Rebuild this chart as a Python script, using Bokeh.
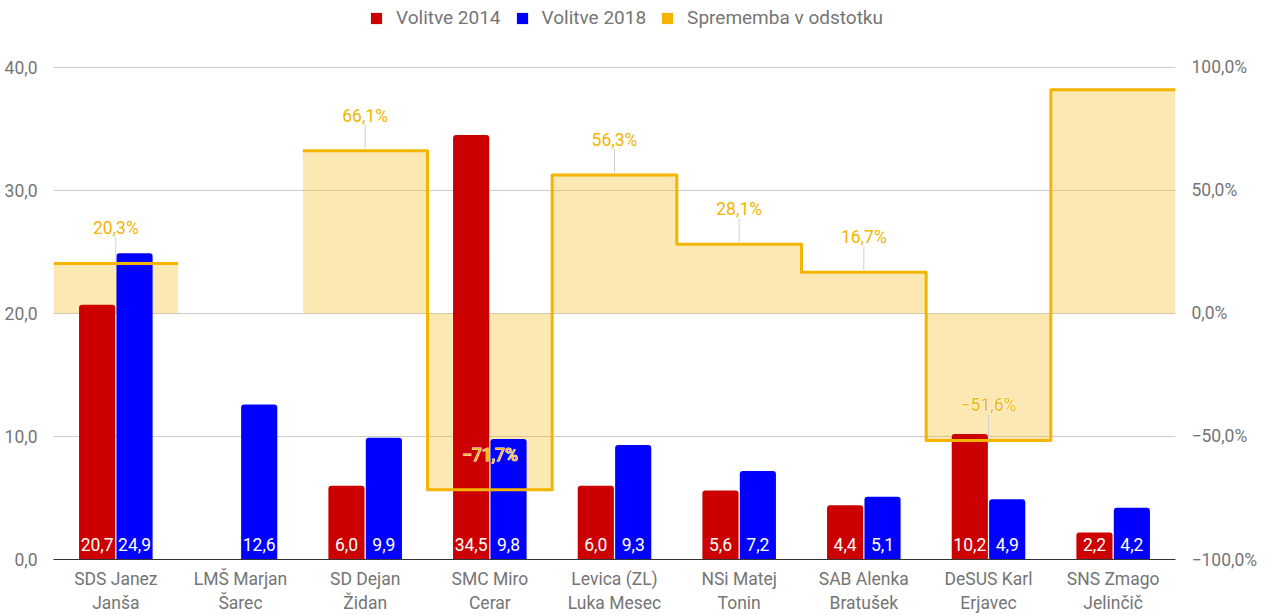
from bokeh.plotting import figure
from bokeh.models import Range1d, LinearAxis, Legend, LegendItem, FixedTicker, ColumnDataSource
from bokeh.embed import file_html
from bokeh.resources import INLINE
from bokeh.core.properties import value

categories = ["SDS Janez\nJanša", "LMŠ Marjan\nŠarec", "SD Dejan\nŽidan", "SMC Miro\nCerar",
              "Levica (ZL)\nLuka Mesec", "NSi Matej\nTonin", "SAB Alenka\nBratušek",
              "DeSUS Karl\nErjavec", "SNS Zmago\nJelinčič"]
v2014 = [20.7, None, 6.0, 34.5, 6.0, 5.6, 4.4, 10.2, 2.2]
v2018 = [24.9, 12.6, 9.9, 9.8, 9.3, 7.2, 5.1, 4.9, 4.2]
change = [20.3, None, 66.1, -71.7, 56.3, 28.1, 16.7, -51.6, 90.9]
left_ticks = [0, 10, 20, 30, 40]
left_labels = ["0,0", "10,0", "20,0", "30,0", "40,0"]
right_ticks = [-100, -50, 0, 50, 100]
right_labels = ["−100,0%", "−50,0%", "0,0%", "50,0%", "100,0%"]
series_names = ["Volitve 2014", "Volitve 2018", "Sprememba v odstotku"]

RED = "#cc0000"
BLUE = "#0000ff"
YEL = "#f4b400"
GRAY = "#757575"
FONT = "Roboto"
FS = "17.5px"

# layout: plot data area 493px tall, plus 67px headroom at top holding the legend
DATA_H = 493
HEAD = 67
y_end = left_ticks[-1] * (DATA_H + HEAD) / DATA_H
pct_end = right_ticks[0] + (right_ticks[-1] - right_ticks[0]) * (DATA_H + HEAD) / DATA_H

def fmt(v):
    s = f"{abs(v):.1f}".replace(".", ",")
    return ("−" + s) if v < 0 else s

p = figure(width=1260, height=615, output_backend="svg", toolbar_location=None,
           x_range=Range1d(0, len(categories)), y_range=Range1d(0, y_end),
           min_border_left=53, min_border_right=80, min_border_top=0, min_border_bottom=55)
p.extra_y_ranges = {"pct": Range1d(right_ticks[0], pct_end)}
p.outline_line_alpha = 0
p.background_fill_color = "white"

# grid
p.xgrid.visible = False
p.ygrid.ticker = FixedTicker(ticks=left_ticks)
p.ygrid.grid_line_color = "#cccccc"

# axes
xa = p.xaxis[0]
xa.ticker = FixedTicker(ticks=[i + 0.5 for i in range(len(categories))])
xa.major_label_overrides = {i + 0.5: c for i, c in enumerate(categories)}
xa.axis_line_color = "#333333"
xa.major_tick_line_alpha = 0
xa.minor_tick_line_alpha = 0
xa.major_label_text_font = FONT
xa.major_label_text_font_size = FS
xa.major_label_text_color = GRAY
xa.major_label_standoff = 3

ya = p.yaxis[0]
ya.ticker = FixedTicker(ticks=left_ticks)
ya.major_label_overrides = {t: l for t, l in zip(left_ticks, left_labels)}
ya.axis_line_alpha = 0
ya.major_tick_line_alpha = 0
ya.minor_tick_line_alpha = 0
ya.major_label_text_font = FONT
ya.major_label_text_font_size = FS
ya.major_label_text_color = GRAY
ya.major_label_standoff = 10

ra = LinearAxis(y_range_name="pct", ticker=FixedTicker(ticks=right_ticks))
ra.major_label_overrides = {t: l for t, l in zip(right_ticks, right_labels)}
ra.axis_line_alpha = 0
ra.major_tick_line_alpha = 0
ra.minor_tick_line_alpha = 0
ra.major_label_text_font = FONT
ra.major_label_text_font_size = FS
ra.major_label_text_color = GRAY
ra.major_label_standoff = 10
p.add_layout(ra, "right")

# stepped area fill
area_idx = [i for i, v in enumerate(change) if v is not None]
area_src = ColumnDataSource(dict(left=area_idx, right=[i + 1 for i in area_idx],
                                 top=[change[i] for i in area_idx]))
p.quad(left="left", right="right", bottom=0, top="top", source=area_src, y_range_name="pct",
       fill_color=YEL, fill_alpha=0.3, line_alpha=0)

# bars
i14 = [i for i, v in enumerate(v2014) if v is not None]
src14 = ColumnDataSource(dict(x=[i + 0.35 for i in i14], top=[v2014[i] for i in i14],
                              lab=[fmt(v2014[i]) for i in i14]))
i18 = [i for i, v in enumerate(v2018) if v is not None]
src18 = ColumnDataSource(dict(x=[i + 0.65 for i in i18], top=[v2018[i] for i in i18],
                              lab=[fmt(v2018[i]) for i in i18]))
r14 = p.vbar(x="x", top="top", width=0.29, source=src14, fill_color=RED, line_alpha=0,
             border_radius=(3, 3, 0, 0))
r18 = p.vbar(x="x", top="top", width=0.29, source=src18, fill_color=BLUE, line_alpha=0,
             border_radius=(3, 3, 0, 0))

# stepped line
xs, ys = [], []
prev = None
for i, v in enumerate(change):
    if v is None:
        if xs:
            xs.append(float("nan")); ys.append(float("nan"))
        prev = None
        continue
    if prev is not None:
        xs.append(i); ys.append(prev)
    xs.append(i); ys.append(v)
    xs.append(i + 1); ys.append(v)
    prev = v
p.line(xs, ys, y_range_name="pct", line_color=YEL, line_width=3, line_join="round")

# bar value labels
for src in (src14, src18):
    p.text(x="x", y=0, text="lab", source=src, text_color="white", text_font=value(FONT),
           text_font_size=FS, text_align="center", text_baseline="middle", y_offset=-15)

# percent labels with leader lines (the label above 85 % falls outside the chart)
li = [i for i, v in enumerate(change) if v is not None and v < 85]
lab_src = ColumnDataSource(dict(x=[i + 0.5 for i in li], y=[change[i] for i in li],
                                y0=[change[i] + 1 for i in li], y1=[change[i] + 10.5 for i in li],
                                lab=[fmt(change[i]) + "%" for i in li]))
p.segment(x0="x", x1="x", y0="y0", y1="y1", source=lab_src, y_range_name="pct",
          line_color="#d0d0d0", line_width=1)
p.text(x="x", y="y", text="lab", source=lab_src, y_range_name="pct",
       text_color="white", text_font=value(FONT), text_font_size=FS,
       text_align="center", text_baseline="middle", y_offset=-35,
       text_outline_color="white")
p.text(x="x", y="y", text="lab", source=lab_src, y_range_name="pct",
       text_color=YEL, text_font=value(FONT), text_font_size=FS,
       text_align="center", text_baseline="middle", y_offset=-35)

# legend (proxy glyph for the solid yellow swatch)
nan = float("nan")
proxy = p.quad(left=[nan], right=[nan], bottom=[nan], top=[nan], fill_color=YEL, line_alpha=0,
               border_radius=3)
legend = Legend(items=[LegendItem(label=series_names[0], renderers=[r14]),
                       LegendItem(label=series_names[1], renderers=[r18]),
                       LegendItem(label=series_names[2], renderers=[proxy])],
                orientation="horizontal", location=(316, 530),
                glyph_width=14, glyph_height=14, label_text_font=FONT,
                label_text_font_size="19px", label_text_color=GRAY,
                spacing=14, padding=0, margin=0, border_line_alpha=0,
                background_fill_alpha=0, label_standoff=13)
p.add_layout(legend, "center")

open("out.html", "w").write(file_html(p, INLINE))
